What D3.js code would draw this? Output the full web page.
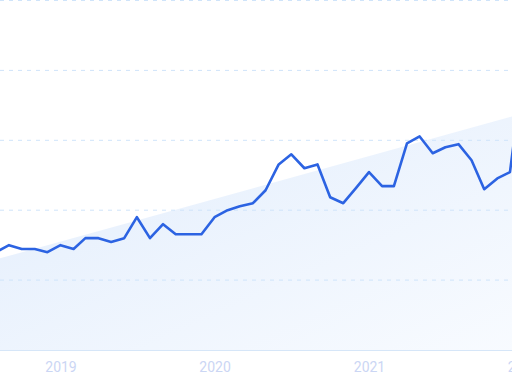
<!DOCTYPE html>
<html>
<head>
<meta charset="utf-8">
<script src="https://cdn.jsdelivr.net/npm/d3@7"></script>
<style>
  html, body { margin: 0; padding: 0; background: #fff; }
  svg { display: block; }
</style>
</head>
<body>
<div id="chart"></div>
<script>
const width = 512, height = 384;

// monthly values, Aug 2018 .. Jan 2022
const months = d3.timeMonths(new Date(2018, 7, 1), new Date(2022, 1, 1));
const values = [
  28.0, 30.0, 28.9, 28.9, 28.0,
  30.0, 28.9, 32.0, 32.0, 30.9, 32.0, 38.0, 32.0, 36.0, 33.1, 33.1, 33.1,
  38.0, 40.0, 41.1, 42.0, 45.7, 53.1, 56.0, 52.0, 53.1, 43.7, 42.0, 46.3,
  50.9, 46.9, 46.9, 59.1, 61.1, 56.3, 58.0, 58.9, 54.3, 46.0, 49.1, 50.9,
  80.0
];
// trend band end points
const trendDates = [new Date(2018, 7, 1), new Date(2022, 0, 1)];
const trendValues = [25.9, 67.7];
const yearTicks = [2019, 2020, 2021, 2022];
const gridValues = [20, 40, 60, 80, 100];

const x = d3.scaleTime()
  .domain([new Date(2019, 0, 1), new Date(2021, 0, 1)])
  .range([60.5, 369]);
const y = d3.scaleLinear().domain([0, 100]).range([350, 0.5]);

const svg = d3.select("#chart").append("svg")
  .attr("width", width)
  .attr("height", height);

const defs = svg.append("defs");
const grad = defs.append("linearGradient")
  .attr("id", "bandFill")
  .attr("x1", 0).attr("y1", 0).attr("x2", 1).attr("y2", 1);
grad.append("stop").attr("offset", "0%").attr("stop-color", "#e2edfc");
grad.append("stop").attr("offset", "100%").attr("stop-color", "#f8fbff");

// trend band
const trend = trendDates.map((d, i) => ({ date: d, value: trendValues[i] }));
svg.append("path")
  .datum(trend)
  .attr("fill", "url(#bandFill)")
  .attr("d", d3.area()
    .x(d => x(d.date))
    .y0(y(0))
    .y1(d => y(d.value)));

// grid lines
svg.append("g")
  .selectAll("line")
  .data(gridValues)
  .join("line")
  .attr("x1", 0).attr("x2", width)
  .attr("y1", d => y(d)).attr("y2", d => y(d))
  .attr("stroke", "#cfe4fa")
  .attr("stroke-width", 1)
  .attr("stroke-dasharray", "4,5");

// baseline
svg.append("line")
  .attr("x1", 0).attr("x2", width)
  .attr("y1", y(0) + 0.5).attr("y2", y(0) + 0.5)
  .attr("stroke", "#d6e6f8");

// x axis labels
const xAxis = d3.axisBottom(x)
  .tickValues(yearTicks.map(yr => new Date(yr, 0, 1)))
  .tickFormat(d3.timeFormat("%Y"))
  .tickSize(0)
  .tickPadding(0);
const gx = svg.append("g")
  .attr("transform", `translate(0,${y(0)})`)
  .call(xAxis);
gx.select(".domain").remove();
gx.selectAll("text")
  .attr("dy", null)
  .attr("y", 22)
  .attr("fill", "#cbd6f4")
  .attr("font-family", "Roboto, 'Noto Sans', sans-serif")
  .attr("font-size", 14);

// series line
const series = months.map((d, i) => ({ date: d, value: values[i] }));
svg.append("path")
  .datum(series)
  .attr("fill", "none")
  .attr("stroke", "#2c63e2")
  .attr("stroke-width", 2.6)
  .attr("stroke-linejoin", "round")
  .attr("d", d3.line()
    .x(d => x(d.date))
    .y(d => y(d.value)));
</script>
</body>
</html>
